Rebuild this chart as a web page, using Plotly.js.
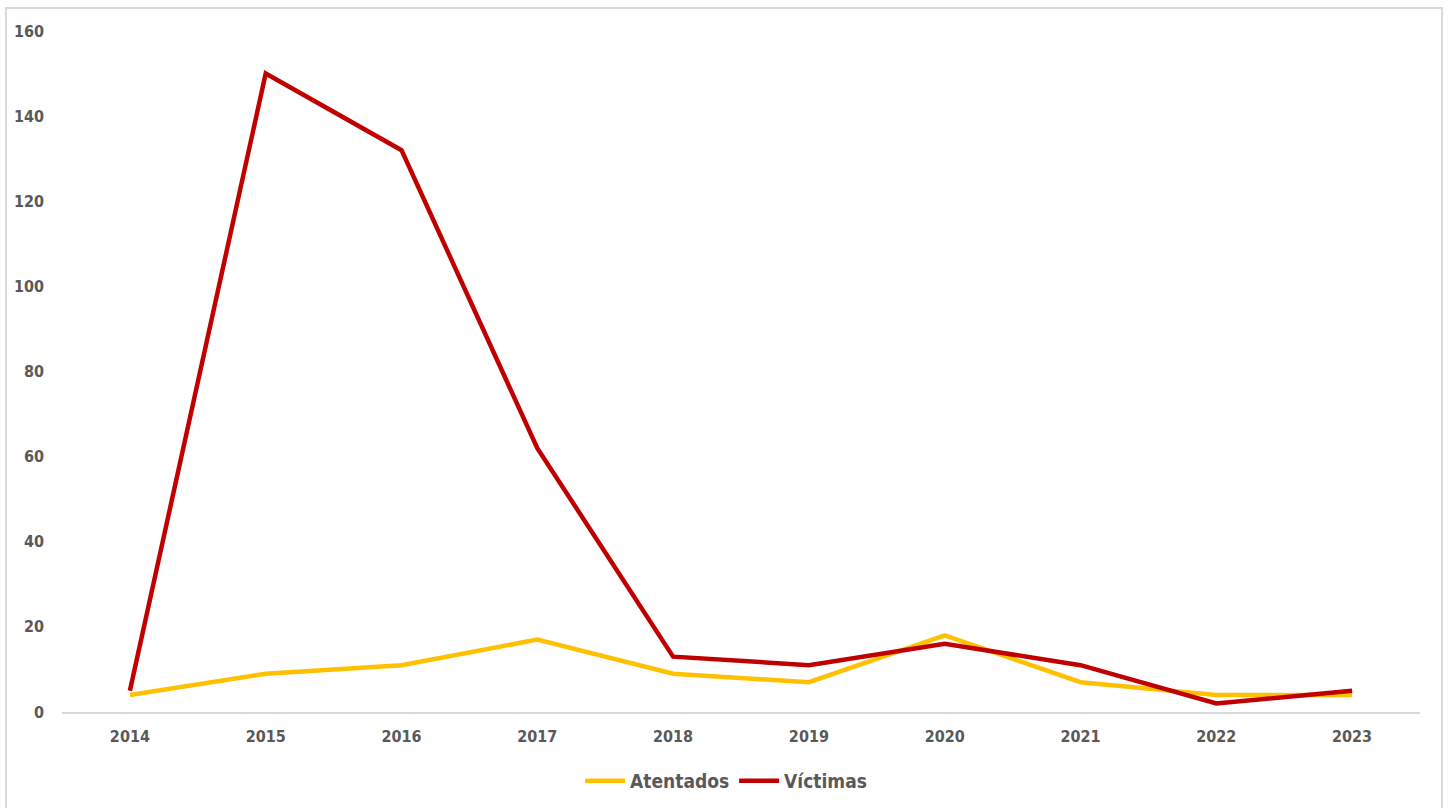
<!DOCTYPE html>
<html>
<head>
<meta charset="utf-8">
<script src="https://cdn.plot.ly/plotly-3.0.1.min.js"></script>
<style>
  html, body { margin: 0; padding: 0; background: #ffffff; }
  #wrap { position: relative; width: 1448px; height: 808px; overflow: hidden; }
  #chart { position: absolute; left: 0; top: 0; width: 1448px; height: 808px; }
  #frame { position: absolute; left: 5px; top: 7px; width: 1434px; height: 820px;
           border: 2px solid #d9d9d9; pointer-events: none; }
</style>
</head>
<body>
<div id="wrap">
  <div id="chart"></div>
  <div id="frame"></div>
</div>
<script>
// Years on the category axis
const years = ['2014', '2015', '2016', '2017', '2018', '2019', '2020', '2021', '2022', '2023'];
// Number of attacks per year
const atentados = [4, 9, 11, 17, 9, 7, 18, 7, 4, 4];
// Number of victims per year
const victimas = [5, 150, 132, 62, 13, 11, 16, 11, 2, 5];
// Value axis ticks
const yTicks = [0, 20, 40, 60, 80, 100, 120, 140, 160];

const FONT = '"DejaVu Sans Condensed", "DejaVu Sans", sans-serif';
const GREY = '#595959';

const traces = [
  {
    x: years, y: atentados, name: 'Atentados', type: 'scatter', mode: 'lines',
    line: { color: '#FFC000', width: 4.5 }
  },
  {
    x: years, y: victimas, name: 'Víctimas', type: 'scatter', mode: 'lines',
    line: { color: '#C00000', width: 4.5 }
  }
];

const layout = {
  width: 1448, height: 808,
  margin: { l: 62, r: 28, t: 31, b: 96, autoexpand: false },
  paper_bgcolor: '#ffffff', plot_bgcolor: '#ffffff',
  font: { family: FONT, color: GREY, size: 16, weight: 'bold', stretch: 'condensed' },
  showlegend: true,
  legend: {
    orientation: 'h', x: 0.489, xanchor: 'center', y: -0.101, yanchor: 'middle',
    font: { family: FONT, size: 19, color: GREY, weight: 'bold', stretch: 'condensed' },
    itemwidth: 40, bgcolor: 'rgba(0,0,0,0)'
  },
  xaxis: {
    type: 'category', showgrid: false, zeroline: false,
    showline: true, linecolor: '#d9d9d9', linewidth: 2,
    ticks: '', ticklabelstandoff: 9,
    tickfont: { family: FONT, size: 16, color: GREY, weight: 'bold', stretch: 'condensed' },
    range: [-0.5, years.length - 0.5]
  },
  yaxis: {
    range: [0, 160], tickvals: yTicks, showgrid: false, zeroline: false,
    showline: false, ticks: '', ticklabelstandoff: 17,
    tickfont: { family: FONT, size: 16, color: GREY, weight: 'bold', stretch: 'condensed' }
  }
};

Plotly.newPlot('chart', traces, layout, { displayModeBar: false, staticPlot: true });
</script>
</body>
</html>
